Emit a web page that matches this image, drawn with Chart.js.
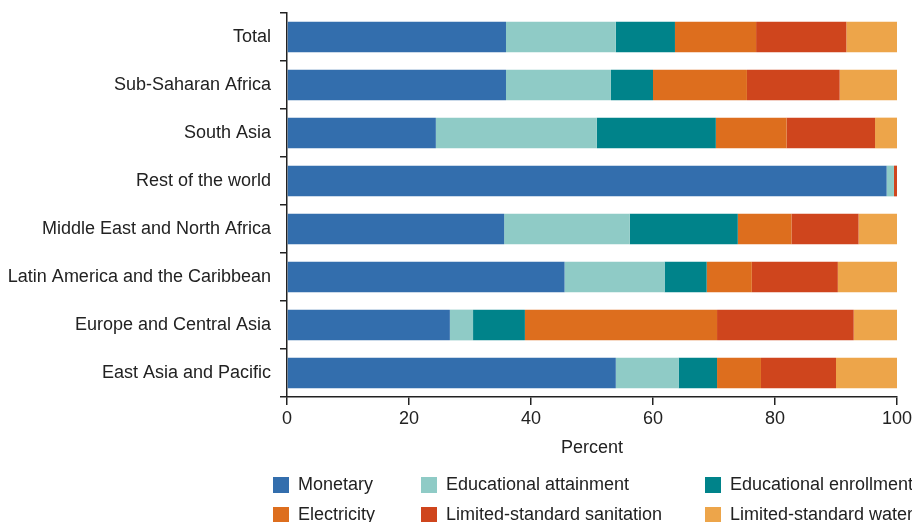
<!DOCTYPE html>
<html>
<head>
<meta charset="utf-8">
<script src="https://cdn.jsdelivr.net/npm/chart.js@4/dist/chart.umd.min.js"></script>
<style>
  html, body { margin: 0; padding: 0; background: #fff; }
  #wrap { width: 912px; height: 522px; }
</style>
</head>
<body>
<div id="wrap"><canvas id="chart" width="912" height="522"></canvas></div>
<script>
// regions, top to bottom
const regions = ['Total', 'Sub-Saharan Africa', 'South Asia', 'Rest of the world',
  'Middle East and North Africa', 'Latin America and the Caribbean',
  'Europe and Central Asia', 'East Asia and Pacific'];

// share of each deprivation, percent
const monetary    = [35.9, 35.9, 24.4, 98.3, 35.6, 45.5, 26.7, 53.9];
const eduAttain   = [18.0, 17.2, 26.4,  1.2, 20.6, 16.4,  3.8, 10.3];
const eduEnroll   = [ 9.7,  6.9, 19.5,  0.0, 17.7,  6.9,  8.5,  6.3];
const electricity = [13.3, 15.4, 11.6,  0.0,  8.8,  7.4, 31.5,  7.2];
const sanitation  = [14.8, 15.2, 14.5,  0.5, 11.0, 14.1, 22.4, 12.3];
const water       = [ 8.3,  9.4,  3.6,  0.0,  6.3,  9.7,  7.1, 10.0];

const xTicks = [0, 20, 40, 60, 80, 100];

const FONT = "'Liberation Sans', Arial, sans-serif";
const INK = '#222';

// legend laid out in a fixed 3-column grid
const gridLegend = {
  id: 'gridLegend',
  afterDraw(chart) {
    const ctx = chart.ctx;
    const cols = [273, 421, 705];
    const rows = [477, 507];
    ctx.save();
    ctx.font = '18px ' + FONT;
    ctx.textBaseline = 'middle';
    ctx.textAlign = 'left';
    chart.data.datasets.forEach(function(ds, i) {
      const x = cols[i % 3], y = rows[Math.floor(i / 3)];
      ctx.fillStyle = ds.backgroundColor;
      ctx.fillRect(x, y, 16, 16);
      ctx.fillStyle = INK;
      ctx.fillText(ds.label, x + 25, y + 8);
    });
    ctx.restore();
  }
};

new Chart(document.getElementById('chart'), {
  type: 'bar',
  data: {
    labels: regions,
    datasets: [
      {label: 'Monetary', data: monetary, backgroundColor: '#336EAD'},
      {label: 'Educational attainment', data: eduAttain, backgroundColor: '#8FCBC6'},
      {label: 'Educational enrollment', data: eduEnroll, backgroundColor: '#00838A'},
      {label: 'Electricity', data: electricity, backgroundColor: '#DD6E1E'},
      {label: 'Limited-standard sanitation', data: sanitation, backgroundColor: '#CF451D'},
      {label: 'Limited-standard water', data: water, backgroundColor: '#EDA54A'}
    ]
  },
  options: {
    indexAxis: 'y',
    responsive: false,
    animation: false,
    barPercentage: 0.8,
    categoryPercentage: 0.8,
    layout: {padding: {left: 0, top: 13, right: 15, bottom: 60}},
    plugins: {
      legend: {display: false},
      tooltip: {enabled: false}
    },
    scales: {
      x: {
        stacked: true,
        min: 0, max: 100,
        afterBuildTicks: function(axis) { axis.ticks = xTicks.map(v => ({value: v})); },
        afterFit: function(axis) {
          axis.height = 65;
          axis.paddingLeft = 0; axis.paddingRight = 0;
        },
        grid: {drawOnChartArea: false, tickLength: 8, color: INK, lineWidth: 1.5},
        border: {color: INK, width: 1.5},
        ticks: {color: INK, font: {family: FONT, size: 18}, padding: 3, maxRotation: 0},
        title: {display: true, text: 'Percent', color: INK,
                font: {family: FONT, size: 18}, padding: {top: 0, bottom: 3}}
      },
      y: {
        stacked: true,
        afterFit: function(axis) {
          axis.width = 287;
          axis.paddingTop = 0; axis.paddingBottom = 0;
        },
        grid: {drawOnChartArea: false, offset: true, tickLength: 7, color: INK, lineWidth: 1.5},
        border: {color: INK, width: 1.5},
        ticks: {color: INK, font: {family: FONT, size: 18}, padding: 9}
      }
    }
  },
  plugins: [gridLegend]
});
</script>
</body>
</html>
